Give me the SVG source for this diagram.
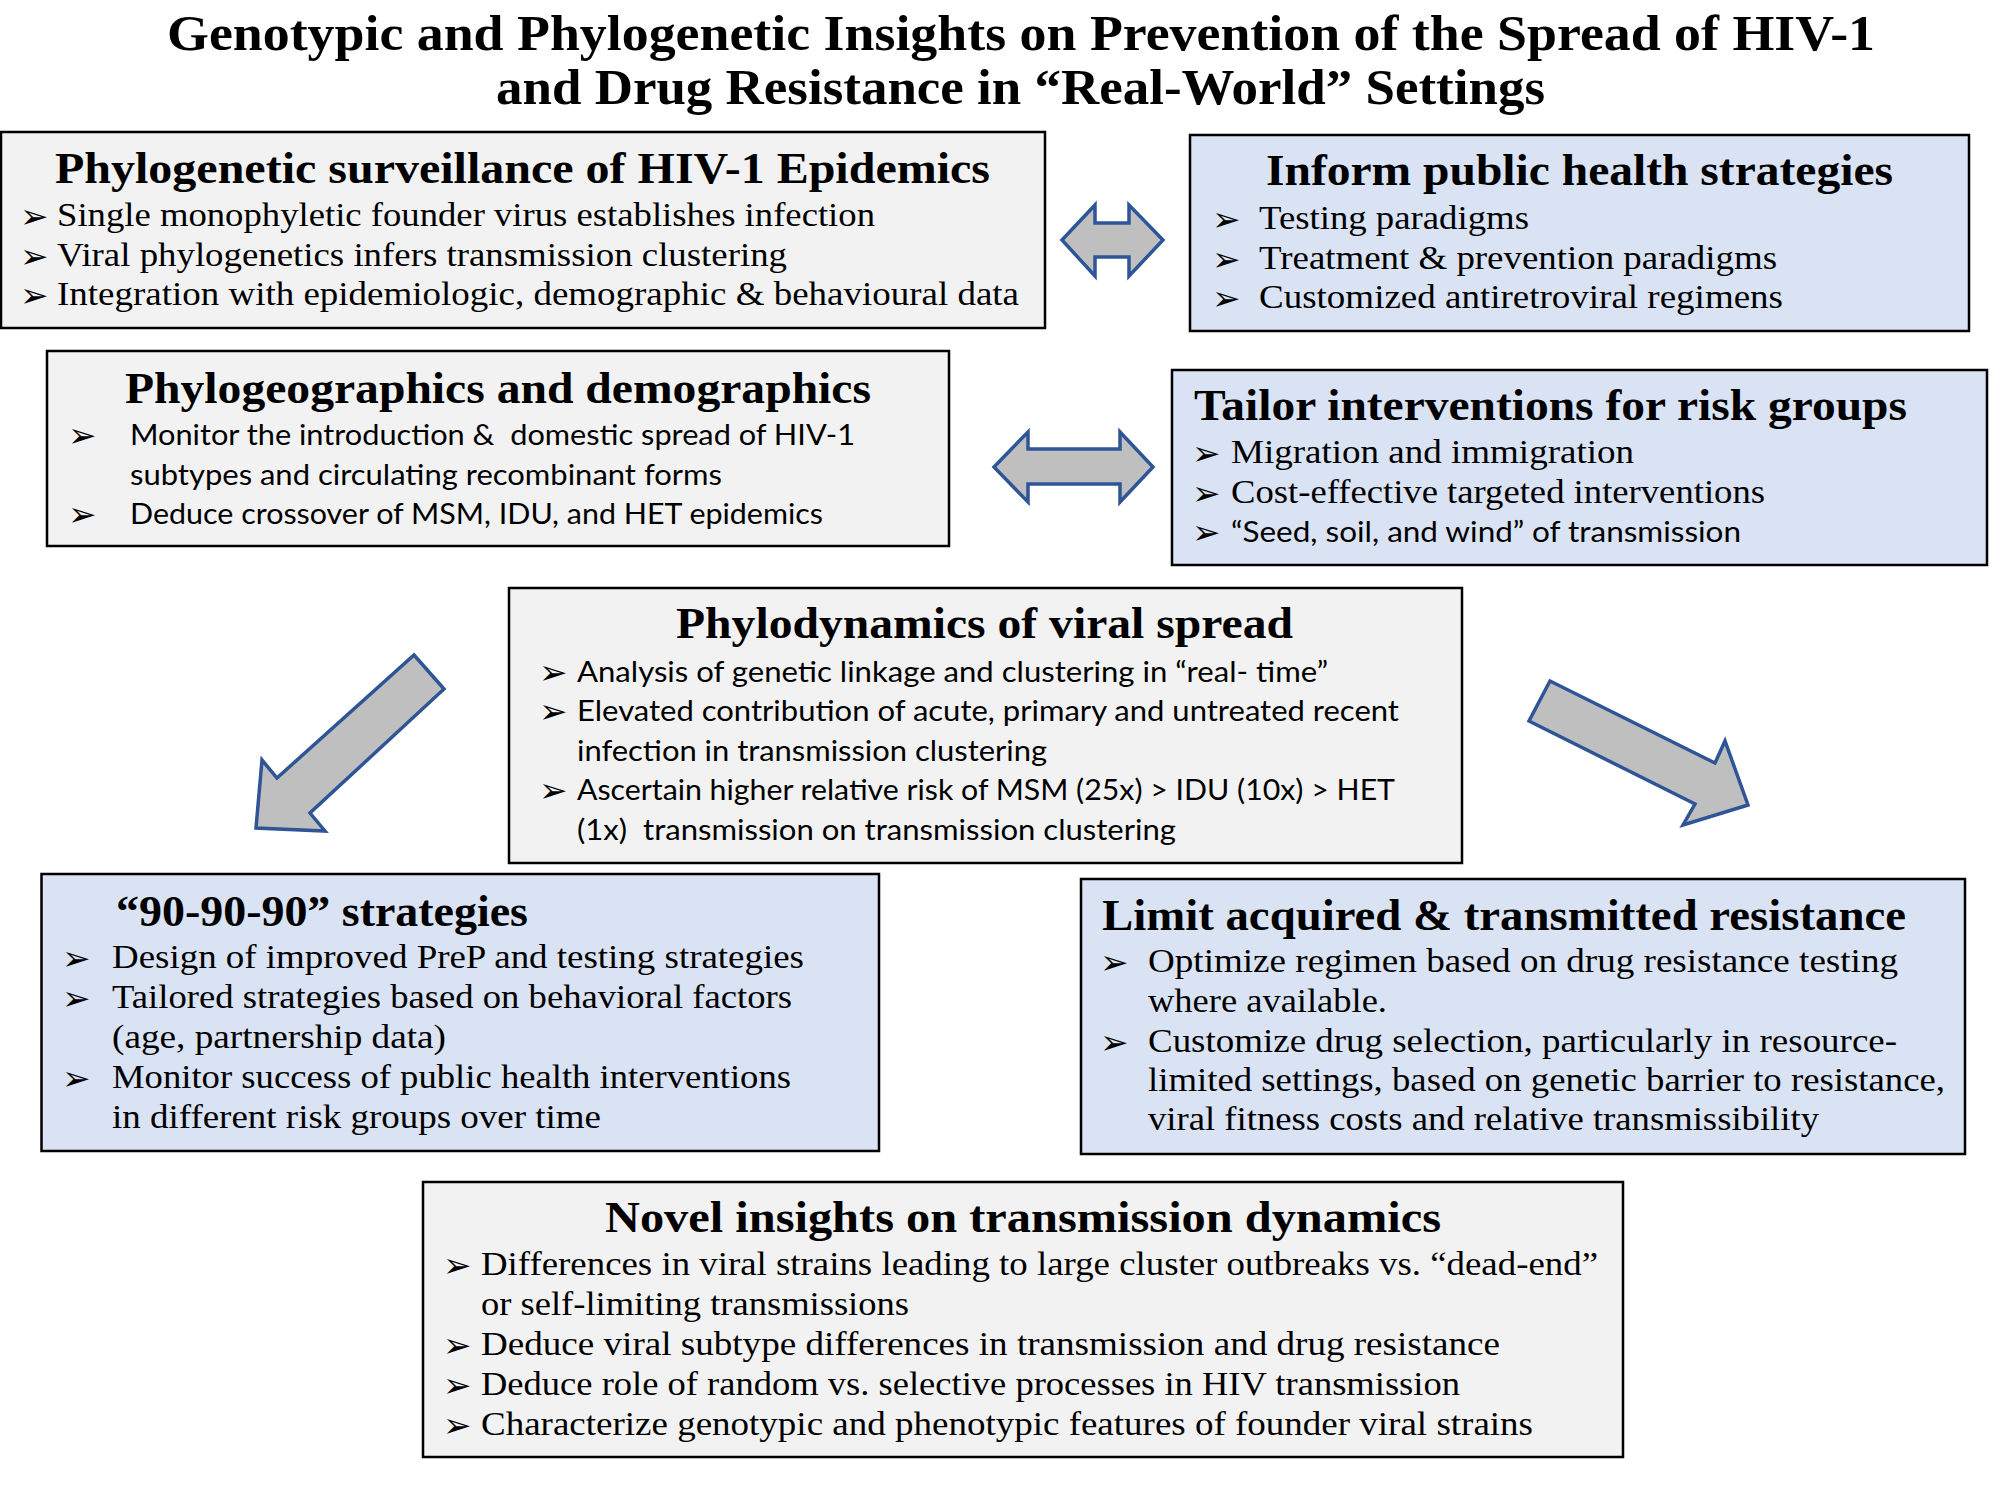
<svg xmlns="http://www.w3.org/2000/svg" width="2000" height="1500" viewBox="0 0 2000 1500">
<style>
.bg{fill:#F2F2F2;stroke:#000;stroke-width:2.5}
.bb{fill:#DAE3F3;stroke:#000;stroke-width:2.5}
.mt{font-family:"Liberation Serif",serif;font-weight:bold;font-size:51px;fill:#000}
.h{font-family:"Liberation Serif",serif;font-weight:bold;font-size:44px;fill:#000}
.t{font-family:"Liberation Serif",serif;font-size:33px;fill:#000}
.c{font-family:Lato,"Liberation Sans",sans-serif;font-size:28px;fill:#000}
.u{font-family:"DejaVu Sans",sans-serif;font-size:34px;fill:#000}
.ar{fill:#BFBFBF;stroke:#2F5597;stroke-width:3.5;stroke-linejoin:miter}
</style>
<rect width="2000" height="1500" fill="#fff"/>
<g id="title">
<text class="mt" x="167" y="50" textLength="1708" lengthAdjust="spacingAndGlyphs">Genotypic and Phylogenetic Insights on Prevention of the Spread of HIV-1</text>
<text class="mt" x="496" y="104" textLength="1049" lengthAdjust="spacingAndGlyphs">and Drug Resistance in “Real-World” Settings</text>
</g>
<g id="connectors">
<polygon class="ar" points="1062,240 1095,205 1095,223 1129,223 1129,205 1163,240 1129,276 1129,257 1095,257 1095,276"/>
<polygon class="ar" points="994,467 1028,432 1028,449 1120,449 1120,432 1153,467 1120,502 1120,484 1028,484 1028,502"/>
<polygon class="ar" points="414,655 444,689 310,813 325,831 256,828 262,760 277,778"/>
<polygon class="ar" points="1550,681 1715,763 1725,741 1748,805 1683,825 1695,804 1529,721"/>
</g>
<g id="surveillance">
<rect class="bg" x="1" y="132" width="1044" height="196"/>
<text class="h" x="55" y="183" textLength="935" lengthAdjust="spacingAndGlyphs">Phylogenetic surveillance of HIV-1 Epidemics</text>
<text class="u" x="20" y="228">➢</text>
<text class="t" x="57" y="226" textLength="818" lengthAdjust="spacingAndGlyphs">Single monophyletic founder virus establishes infection</text>
<text class="u" x="20" y="268">➢</text>
<text class="t" x="57" y="266" textLength="730" lengthAdjust="spacingAndGlyphs">Viral phylogenetics infers transmission clustering</text>
<text class="u" x="20" y="307">➢</text>
<text class="t" x="57" y="305" textLength="962" lengthAdjust="spacingAndGlyphs">Integration with epidemiologic, demographic &amp; behavioural data</text>
</g>
<g id="inform">
<rect class="bb" x="1190" y="135" width="779" height="196"/>
<text class="h" x="1266" y="185" textLength="627" lengthAdjust="spacingAndGlyphs">Inform public health strategies</text>
<text class="u" x="1212" y="231">➢</text>
<text class="t" x="1259" y="229" textLength="270" lengthAdjust="spacingAndGlyphs">Testing paradigms</text>
<text class="u" x="1212" y="271">➢</text>
<text class="t" x="1259" y="269" textLength="518" lengthAdjust="spacingAndGlyphs">Treatment &amp; prevention paradigms</text>
<text class="u" x="1212" y="310">➢</text>
<text class="t" x="1259" y="308" textLength="524" lengthAdjust="spacingAndGlyphs">Customized antiretroviral regimens</text>
</g>
<g id="phylogeographics">
<rect class="bg" x="47" y="351" width="902" height="195"/>
<text class="h" x="125" y="403" textLength="746" lengthAdjust="spacingAndGlyphs">Phylogeographics and demographics</text>
<text class="u" x="68" y="447">➢</text>
<text class="c" x="130" y="445" textLength="725" lengthAdjust="spacingAndGlyphs" xml:space="preserve">Monitor the introduction &amp;  domestic spread of HIV-1</text>
<text class="c" x="130" y="485" textLength="592" lengthAdjust="spacingAndGlyphs">subtypes and circulating recombinant forms</text>
<text class="u" x="68" y="526">➢</text>
<text class="c" x="130" y="524" textLength="693" lengthAdjust="spacingAndGlyphs">Deduce crossover of MSM, IDU, and HET epidemics</text>
</g>
<g id="tailor">
<rect class="bb" x="1172" y="370" width="815" height="195"/>
<text class="h" x="1194" y="420" textLength="713" lengthAdjust="spacingAndGlyphs">Tailor interventions for risk groups</text>
<text class="u" x="1192" y="465">➢</text>
<text class="t" x="1231" y="463" textLength="403" lengthAdjust="spacingAndGlyphs">Migration and immigration</text>
<text class="u" x="1192" y="505">➢</text>
<text class="t" x="1231" y="503" textLength="534" lengthAdjust="spacingAndGlyphs">Cost-effective targeted interventions</text>
<text class="u" x="1192" y="544">➢</text>
<text class="c" x="1231" y="542" textLength="510" lengthAdjust="spacingAndGlyphs">“Seed, soil, and wind” of transmission</text>
</g>
<g id="phylodynamics">
<rect class="bg" x="509" y="588" width="953" height="275"/>
<text class="h" x="676" y="638" textLength="617" lengthAdjust="spacingAndGlyphs">Phylodynamics of viral spread</text>
<text class="u" x="539" y="684">➢</text>
<text class="c" x="577" y="682" textLength="751" lengthAdjust="spacingAndGlyphs">Analysis of genetic linkage and clustering in “real- time”</text>
<text class="u" x="539" y="723">➢</text>
<text class="c" x="577" y="721" textLength="822" lengthAdjust="spacingAndGlyphs">Elevated contribution of acute, primary and untreated recent</text>
<text class="c" x="577" y="761" textLength="470" lengthAdjust="spacingAndGlyphs">infection in transmission clustering</text>
<text class="u" x="539" y="802">➢</text>
<text class="c" x="577" y="800" textLength="818" lengthAdjust="spacingAndGlyphs">Ascertain higher relative risk of MSM (25x) &gt; IDU (10x) &gt; HET</text>
<text class="c" x="577" y="840" textLength="599" lengthAdjust="spacingAndGlyphs" xml:space="preserve">(1x)  transmission on transmission clustering</text>
</g>
<g id="strategies909090">
<rect class="bb" x="41.5" y="874" width="837.5" height="277"/>
<text class="h" x="116" y="926" textLength="412" lengthAdjust="spacingAndGlyphs">“90-90-90” strategies</text>
<text class="u" x="62" y="970">➢</text>
<text class="t" x="112" y="968" textLength="692" lengthAdjust="spacingAndGlyphs">Design of improved PreP and testing strategies</text>
<text class="u" x="62" y="1010">➢</text>
<text class="t" x="112" y="1008" textLength="680" lengthAdjust="spacingAndGlyphs">Tailored strategies based on behavioral factors</text>
<text class="t" x="112" y="1048" textLength="334" lengthAdjust="spacingAndGlyphs">(age, partnership data)</text>
<text class="u" x="62" y="1090">➢</text>
<text class="t" x="112" y="1088" textLength="679" lengthAdjust="spacingAndGlyphs">Monitor success of public health interventions</text>
<text class="t" x="112" y="1128" textLength="489" lengthAdjust="spacingAndGlyphs">in different risk groups over time</text>
</g>
<g id="resistance">
<rect class="bb" x="1081" y="879" width="884" height="275"/>
<text class="h" x="1102" y="930" textLength="804" lengthAdjust="spacingAndGlyphs">Limit acquired &amp; transmitted resistance</text>
<text class="u" x="1100" y="974">➢</text>
<text class="t" x="1148" y="972" textLength="750" lengthAdjust="spacingAndGlyphs">Optimize regimen based on drug resistance testing</text>
<text class="t" x="1148" y="1012" textLength="239" lengthAdjust="spacingAndGlyphs">where available.</text>
<text class="u" x="1100" y="1054">➢</text>
<text class="t" x="1148" y="1052" textLength="749" lengthAdjust="spacingAndGlyphs">Customize drug selection, particularly in resource-</text>
<text class="t" x="1148" y="1091" textLength="797" lengthAdjust="spacingAndGlyphs">limited settings, based on genetic barrier to resistance,</text>
<text class="t" x="1148" y="1130" textLength="671" lengthAdjust="spacingAndGlyphs">viral fitness costs and relative transmissibility</text>
</g>
<g id="novel">
<rect class="bg" x="423" y="1182" width="1200" height="275"/>
<text class="h" x="605" y="1232" textLength="836" lengthAdjust="spacingAndGlyphs">Novel insights on transmission dynamics</text>
<text class="u" x="443" y="1277">➢</text>
<text class="t" x="481" y="1275" textLength="1117" lengthAdjust="spacingAndGlyphs">Differences in viral strains leading to large cluster outbreaks vs. “dead-end”</text>
<text class="t" x="481" y="1315" textLength="428" lengthAdjust="spacingAndGlyphs">or self-limiting transmissions</text>
<text class="u" x="443" y="1357">➢</text>
<text class="t" x="481" y="1355" textLength="1019" lengthAdjust="spacingAndGlyphs">Deduce viral subtype differences in transmission and drug resistance</text>
<text class="u" x="443" y="1397">➢</text>
<text class="t" x="481" y="1395" textLength="979" lengthAdjust="spacingAndGlyphs">Deduce role of random vs. selective processes in HIV transmission</text>
<text class="u" x="443" y="1437">➢</text>
<text class="t" x="481" y="1435" textLength="1052" lengthAdjust="spacingAndGlyphs">Characterize genotypic and phenotypic features of founder viral strains</text>
</g>
</svg>
